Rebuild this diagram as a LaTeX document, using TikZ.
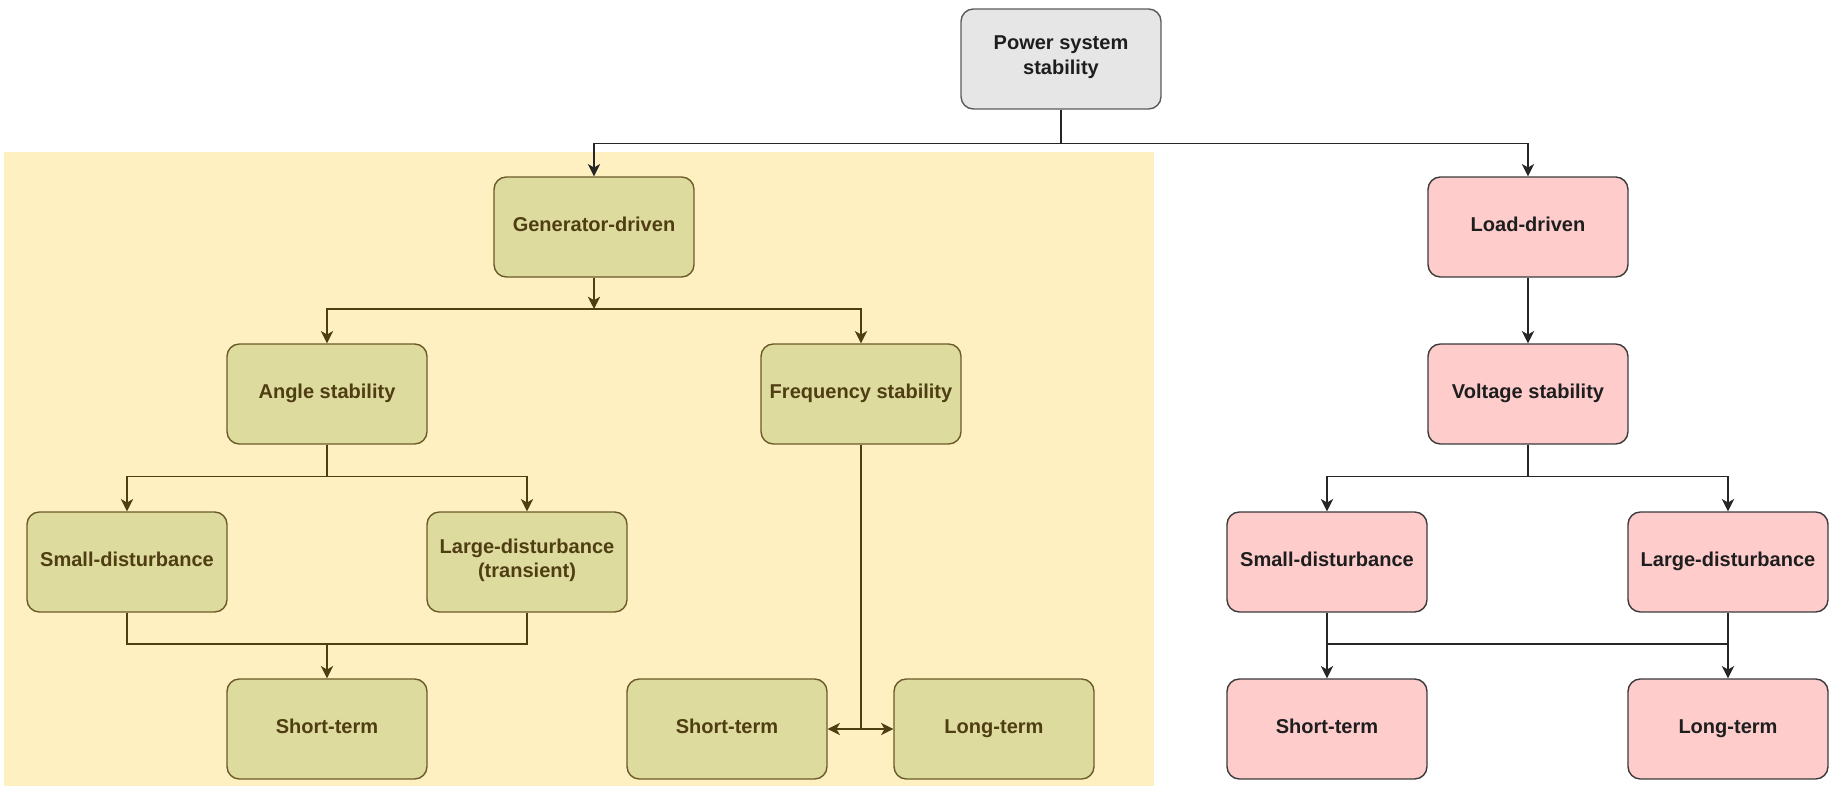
\documentclass[tikz,border=0pt]{standalone}
\usepackage{fontspec}
\setmainfont{Liberation Sans}
\usetikzlibrary{calc}
\usetikzlibrary{arrows.meta}

\definecolor{zonefill}{HTML}{FFF0C2}
\definecolor{genfill}{HTML}{DEDB9F}
\definecolor{genline}{HTML}{6B5A28}
\definecolor{gentext}{HTML}{4E3E12}
\definecolor{loadfill}{HTML}{FFCCCC}
\definecolor{loadline}{HTML}{3A3A3A}
\definecolor{topfill}{HTML}{E6E6E6}
\definecolor{topline}{HTML}{5A5A5A}
\definecolor{darktext}{HTML}{1E1E1E}

\begin{document}
\begin{tikzpicture}[x=0.02cm,y=-0.02cm,>={Stealth[length=7pt,width=7pt,inset=2pt]},
    box/.style={rounded corners=7pt,line width=0.8pt,minimum width=4cm,minimum height=2cm,
      align=center,font=\bfseries\fontsize{11.4}{14}\selectfont,execute at begin node=\strut},
    genbox/.style={box,draw=genline,fill=genfill,text=gentext},
    loadbox/.style={box,draw=loadline,fill=loadfill,text=darktext},
    topbox/.style={box,draw=topline,fill=topfill,text=darktext},
    genwire/.style={line width=0.8pt,draw=gentext},
    wire/.style={line width=0.8pt,draw=black!85}]
    \useasboundingbox (0,0) rectangle (1833,786);
    \fill[zonefill] (4,152) rectangle (1154,786);

    % top and second level
    \node[topbox] (PSS) at (1061,59) {Power system\\stability};
    \node[genbox] (GD) at (594,227) {Generator-driven};
    \node[loadbox] (LD) at (1528,227) {Load-driven};

    % generator-driven side
    \node[genbox] (AS) at (327,394) {Angle stability};
    \node[genbox] (FS) at (861,394) {Frequency stability};
    \node[genbox] (SDg) at (127,562) {Small-disturbance};
    \node[genbox] (LDg) at (527,562) {Large-disturbance\\(transient)};
    \node[genbox] (STa) at (327,729) {Short-term};
    \node[genbox] (STf) at (727,729) {Short-term};
    \node[genbox] (LTf) at (994,729) {Long-term};

    % load-driven side
    \node[loadbox] (VS) at (1528,394) {Voltage stability};
    \node[loadbox] (SDl) at (1327,562) {Small-disturbance};
    \node[loadbox] (LDl) at (1728,562) {Large-disturbance};
    \node[loadbox] (STl) at (1327,729) {Short-term};
    \node[loadbox] (LTl) at (1728,729) {Long-term};

    \coordinate (Jg) at (594,309);
    \coordinate (Ja) at (327,644);
    \coordinate (Jf) at (FS.south |- STf.east);
    \coordinate (Jv) at (1327,644);

    \draw[wire,->] (PSS.south) -- ++(0,34) -| (GD.north);
    \draw[wire,->] (PSS.south) -- ++(0,34) -| (LD.north);

    \draw[genwire,->] (GD.south) -- (Jg);
    \draw[genwire,->] (Jg) -| (AS.north);
    \draw[genwire,->] (Jg) -| (FS.north);
    \draw[genwire,->] (AS.south) -- ++(0,32) -| (SDg.north);
    \draw[genwire,->] (AS.south) -- ++(0,32) -| (LDg.north);
    \draw[genwire] (SDg.south) |- (Ja) -| (LDg.south);
    \draw[genwire,->] (Ja) -- (STa.north);
    \draw[genwire] (FS.south) -- (Jf);
    \draw[genwire,->] (Jf) -- (STf.east);
    \draw[genwire,->] (Jf) -- (LTf.west);

    \draw[wire,->] (LD) -- (VS);
    \draw[wire,->] (VS.south) -- ++(0,32) -| (SDl.north);
    \draw[wire,->] (VS.south) -- ++(0,32) -| (LDl.north);
    \draw[wire,->] (SDl) -- (STl);
    \draw[wire,->] (LDl) -- (LTl);
    \draw[wire] (Jv) -- (Jv -| LDl.south);
  \end{tikzpicture}
\end{document}
